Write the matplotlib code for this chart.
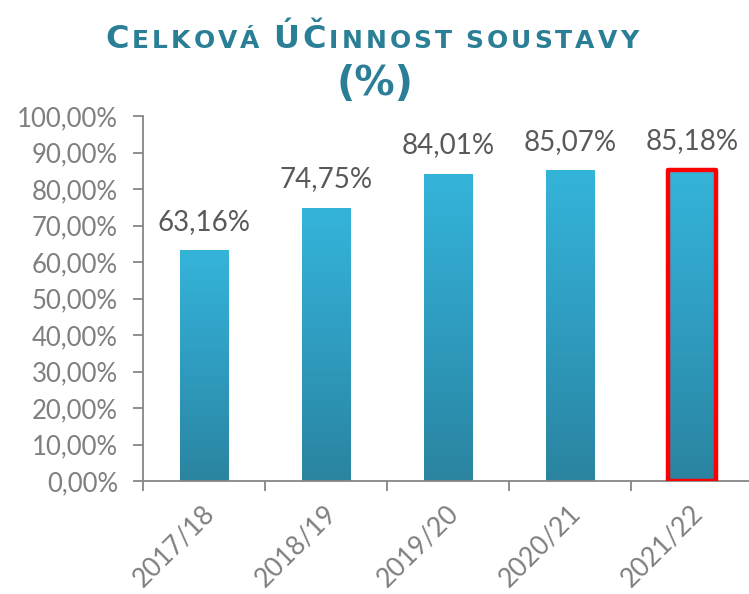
import matplotlib
matplotlib.use("Agg")
import matplotlib.pyplot as plt
import numpy as np
from matplotlib.offsetbox import TextArea, HPacker, AnnotationBbox
from matplotlib.colors import LinearSegmentedColormap
import matplotlib.transforms as mtransforms

categories = ["2017/18", "2018/19", "2019/20", "2020/21", "2021/22"]
values = [63.16, 74.75, 84.01, 85.07, 85.18]
value_labels = ["63,16%", "74,75%", "84,01%", "85,07%", "85,18%"]
yticks = [0, 10, 20, 30, 40, 50, 60, 70, 80, 90, 100]
ytick_labels = ["0,00%", "10,00%", "20,00%", "30,00%", "40,00%", "50,00%",
                "60,00%", "70,00%", "80,00%", "90,00%", "100,00%"]
highlight_index = 4

W, H = 749, 594
fig = plt.figure(figsize=(W / 100, H / 100), dpi=100)
fig.patch.set_facecolor("white")

ax = fig.add_axes([143 / W, (H - 481) / H, (753 - 143) / W, (481 - 116) / H])
ax.set_facecolor("white")
x = np.arange(len(categories))

bar_w = 0.4
bars = ax.bar(x, values, width=bar_w, color="none", edgecolor="none", zorder=2)

cmap = LinearSegmentedColormap.from_list("g", ["#2a84a0", "#2f9cc0", "#35b4da"])
grad = np.linspace(0, 1, 256).reshape(-1, 1)
for i, b in enumerate(bars):
    x0, w, h = b.get_x(), b.get_width(), b.get_height()
    ax.imshow(grad, extent=[x0, x0 + w, 0, h], origin="lower", aspect="auto",
              cmap=cmap, zorder=2, interpolation="bilinear")
    if i == highlight_index:
        b.set_edgecolor("#ff0000")
        b.set_linewidth(3.2)
        b.set_joinstyle("round")
        b.set_zorder(3)
    ax.annotate(value_labels[i], (x[i], h), xytext=(0, 15), textcoords="offset points",
                ha="center", va="baseline", fontsize=20, family="Lato",
                color="#595959", zorder=4)

ax.set_xlim(-0.5, len(categories) - 0.5)
ax.set_ylim(0, 100)

for s in ["top", "right"]:
    ax.spines[s].set_visible(False)
for s in ["left", "bottom"]:
    ax.spines[s].set_color("#868686")
    ax.spines[s].set_linewidth(1.3)

ax.set_yticks(yticks)
ax.set_yticklabels(ytick_labels, family="Lato", fontsize=18.5, color="#7f7f7f")
ax.tick_params(axis="y", direction="out", length=7, width=1.3, color="#868686", pad=11)

ax.set_xticks(x)
ax.set_xticklabels(categories, family="Lato", fontsize=19, color="#7f7f7f",
                   rotation=45, ha="right", rotation_mode="anchor")
ax.tick_params(axis="x", which="major", length=0, pad=14)
ax.set_xticks(np.arange(-0.5, len(categories) - 0.4, 1.0), minor=True)
ax.tick_params(axis="x", which="minor", direction="out", length=7, width=1.3, color="#868686")
offset = mtransforms.ScaledTranslation(-2 / 100, 0, fig.dpi_scale_trans)
for lab in ax.get_xticklabels():
    lab.set_transform(lab.get_transform() + offset)

# Title with small caps and letter spacing
title_color = "#2a7f97"
big, small = 23, 18
letter_sep = 2.2

def word(parts):
    chars = []
    for txt, sz in parts:
        for ch in txt:
            chars.append(TextArea(ch, textprops=dict(fontsize=sz, fontweight="bold",
                                                     family="DejaVu Sans", color=title_color)))
    return HPacker(children=chars, align="baseline", pad=0, sep=letter_sep)

w1 = word([("C", big), ("ELKOVÁ", small)])
w2 = word([("ÚČ", big), ("INNOST", small)])
w3 = word([("SOUSTAVY", small)])
line1 = HPacker(children=[w1, w2, w3], align="baseline", pad=0, sep=10)
ab1 = AnnotationBbox(line1, (372 / W, (H - 39) / H), xycoords="figure fraction",
                     frameon=False, box_alignment=(0.5, 0.5), pad=0)
fig.add_artist(ab1)

w4 = TextArea("(%)", textprops=dict(fontsize=29, fontweight="bold",
                                    family="DejaVu Sans", color=title_color))
ab2 = AnnotationBbox(w4, (375 / W, (H - 84) / H), xycoords="figure fraction",
                     frameon=False, box_alignment=(0.5, 0.5), pad=0)
fig.add_artist(ab2)

fig.savefig("out.png", dpi=100, facecolor="white")
